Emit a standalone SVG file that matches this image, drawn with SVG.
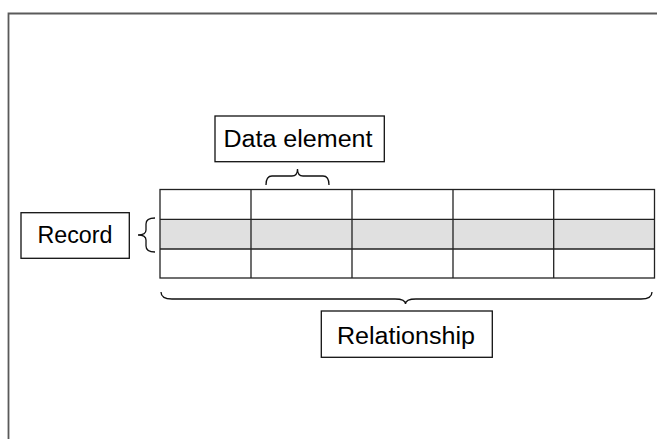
<svg xmlns="http://www.w3.org/2000/svg" width="657" height="439" viewBox="0 0 657 439">
<style>
.box{fill:#fff;stroke:#111;stroke-width:1.3}
.lbl{font-family:"Liberation Sans",Arial,sans-serif;font-size:23.5px;fill:#000;text-anchor:middle}
.cell{stroke:#222;stroke-width:1.3}
.brace{fill:none;stroke:#111;stroke-width:1.3}
</style>
<rect width="657" height="439" fill="#fff"/>
<path d="M8.5,439 V13.5 H657" fill="none" stroke="#5a5a5a" stroke-width="1.8"/>
<g id="table">
<rect x="160" y="219.3" width="494.5" height="29.7" fill="#e0e0e0"/>
<rect x="160" y="189.5" width="494.5" height="88.5" fill="none" class="cell"/>
<path class="cell" d="M160,219.3 H654.5 M160,249 H654.5 M251,189.5 V278 M352,189.5 V278 M453,189.5 V278 M553.7,189.5 V278"/>
</g>
<g id="data-element">
<rect class="box" x="215" y="116" width="169.3" height="45.7"/>
<text class="lbl" x="298" y="146.7" textLength="149" lengthAdjust="spacingAndGlyphs">Data element</text>
</g>
<g id="record">
<rect class="box" x="21" y="212.7" width="108.3" height="45.6"/>
<text class="lbl" x="75" y="243.3" textLength="75" lengthAdjust="spacingAndGlyphs">Record</text>
</g>
<g id="relationship">
<rect class="box" x="321.3" y="311" width="171" height="46.3"/>
<text class="lbl" x="406" y="344" textLength="138" lengthAdjust="spacingAndGlyphs">Relationship</text>
</g>
<g id="connectors">
<path class="brace" d="M155,218 Q146,218 146,224 L146,230 Q146,235 138,235 Q146,235 146,240 L146,246 Q146,252 155,252"/>
<path class="brace" d="M266,185 Q266,176 272,176 L292,176 Q297.5,176 297.5,169 Q297.5,176 303,176 L323,176 Q329,176 329,185"/>
<path class="brace" d="M161,292 Q161,299 172,299 L395,299 Q405.5,299 405.5,304 Q405.5,299 416,299 L641,299 Q652,299 652,292"/>
</g>
</svg>
